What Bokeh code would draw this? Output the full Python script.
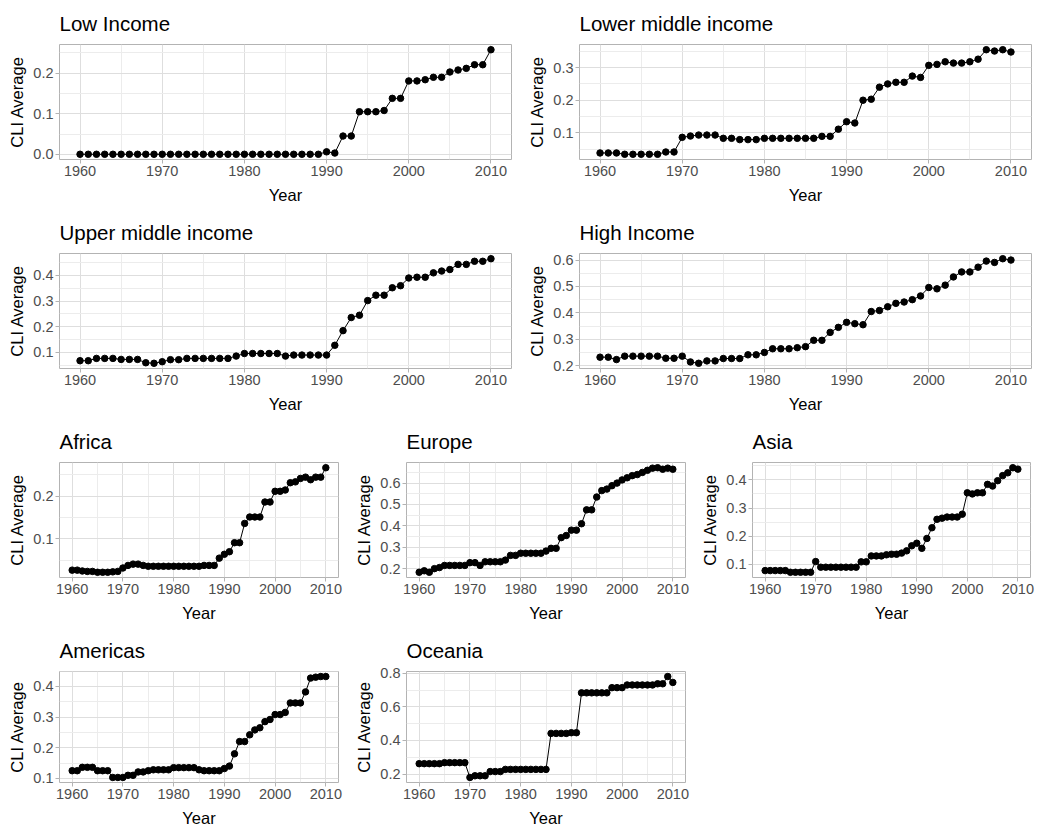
from bokeh.plotting import figure
from bokeh.layouts import column, row
from bokeh.models import FixedTicker, NumeralTickFormatter, Range1d
from bokeh.embed import file_html
from bokeh.resources import INLINE

years = list(range(1960, 2011))
x_ticks = [1960, 1970, 1980, 1990, 2000, 2010]
x_minor = [1965, 1975, 1985, 1995, 2005]

low_income = [0.0, 0.0, 0.0, 0.0, 0.0, 0.0, 0.0, 0.0, 0.0, 0.0,
              0.0, 0.0, 0.0, 0.0, 0.0, 0.0, 0.0, 0.0, 0.0, 0.0,
              0.0, 0.0, 0.0, 0.0, 0.0, 0.0, 0.0, 0.0, 0.0, 0.0,
              0.006, 0.003, 0.045, 0.045, 0.105, 0.105, 0.105, 0.108, 0.138, 0.138,
              0.181, 0.181, 0.184, 0.190, 0.190, 0.203, 0.208, 0.212, 0.221, 0.221, 0.258]
lower_middle = [0.038, 0.038, 0.038, 0.034, 0.034, 0.034, 0.034, 0.034, 0.041, 0.041,
                0.086, 0.090, 0.093, 0.093, 0.093, 0.083, 0.083, 0.079, 0.079, 0.079,
                0.083, 0.083, 0.083, 0.083, 0.083, 0.083, 0.083, 0.089, 0.089, 0.111,
                0.134, 0.130, 0.200, 0.203, 0.240, 0.250, 0.255, 0.255, 0.274, 0.270,
                0.307, 0.310, 0.318, 0.314, 0.314, 0.318, 0.326, 0.355, 0.351, 0.355, 0.348]
upper_middle = [0.068, 0.068, 0.077, 0.077, 0.077, 0.073, 0.073, 0.073, 0.060, 0.058,
                0.064, 0.072, 0.072, 0.077, 0.077, 0.077, 0.077, 0.077, 0.077, 0.086,
                0.096, 0.096, 0.096, 0.096, 0.096, 0.086, 0.090, 0.090, 0.090, 0.090,
                0.090, 0.128, 0.185, 0.236, 0.245, 0.302, 0.323, 0.323, 0.352, 0.360,
                0.390, 0.393, 0.393, 0.410, 0.417, 0.423, 0.443, 0.443, 0.455, 0.455, 0.465]
high_income = [0.232, 0.232, 0.223, 0.236, 0.236, 0.236, 0.236, 0.236, 0.228, 0.228,
               0.236, 0.214, 0.209, 0.218, 0.218, 0.227, 0.227, 0.227, 0.241, 0.241,
               0.250, 0.264, 0.264, 0.264, 0.268, 0.272, 0.296, 0.296, 0.326, 0.345,
               0.364, 0.359, 0.355, 0.405, 0.409, 0.423, 0.436, 0.441, 0.450, 0.464,
               0.496, 0.491, 0.505, 0.536, 0.555, 0.555, 0.573, 0.596, 0.591, 0.605, 0.600]
africa = [0.027, 0.027, 0.025, 0.024, 0.024, 0.022, 0.022, 0.022, 0.023, 0.024,
          0.032, 0.038, 0.041, 0.041, 0.038, 0.036, 0.036, 0.036, 0.036, 0.036,
          0.036, 0.036, 0.036, 0.036, 0.036, 0.036, 0.038, 0.038, 0.038, 0.055,
          0.064, 0.070, 0.091, 0.091, 0.136, 0.151, 0.151, 0.151, 0.186, 0.186,
          0.211, 0.211, 0.214, 0.231, 0.233, 0.241, 0.244, 0.238, 0.244, 0.244, 0.266]
europe = [0.183, 0.190, 0.183, 0.200, 0.205, 0.215, 0.215, 0.215, 0.215, 0.215,
          0.228, 0.228, 0.215, 0.232, 0.232, 0.232, 0.232, 0.240, 0.262, 0.262,
          0.272, 0.272, 0.272, 0.272, 0.272, 0.282, 0.295, 0.295, 0.345, 0.355,
          0.380, 0.380, 0.410, 0.475, 0.475, 0.535, 0.565, 0.572, 0.588, 0.600,
          0.615, 0.625, 0.635, 0.640, 0.650, 0.660, 0.670, 0.672, 0.665, 0.670, 0.665]
asia = [0.078, 0.078, 0.078, 0.078, 0.078, 0.072, 0.072, 0.072, 0.072, 0.072,
        0.110, 0.090, 0.090, 0.090, 0.090, 0.090, 0.090, 0.090, 0.090, 0.109,
        0.109, 0.130, 0.130, 0.130, 0.134, 0.136, 0.136, 0.140, 0.148, 0.166,
        0.175, 0.157, 0.192, 0.230, 0.260, 0.264, 0.268, 0.268, 0.268, 0.278,
        0.354, 0.350, 0.354, 0.354, 0.384, 0.378, 0.397, 0.415, 0.425, 0.443, 0.438]
americas = [0.125, 0.125, 0.136, 0.136, 0.136, 0.125, 0.125, 0.125, 0.103, 0.103,
            0.103, 0.110, 0.110, 0.121, 0.121, 0.125, 0.128, 0.128, 0.128, 0.128,
            0.135, 0.135, 0.135, 0.135, 0.135, 0.128, 0.125, 0.125, 0.125, 0.125,
            0.132, 0.140, 0.180, 0.220, 0.220, 0.242, 0.258, 0.265, 0.285, 0.292,
            0.308, 0.308, 0.315, 0.346, 0.346, 0.346, 0.382, 0.427, 0.430, 0.432, 0.432]
oceania = [0.262, 0.262, 0.262, 0.262, 0.262, 0.268, 0.268, 0.268, 0.268, 0.268,
           0.180, 0.190, 0.190, 0.190, 0.215, 0.215, 0.215, 0.228, 0.228, 0.228,
           0.228, 0.228, 0.228, 0.228, 0.228, 0.228, 0.442, 0.442, 0.442, 0.442,
           0.446, 0.446, 0.683, 0.683, 0.683, 0.683, 0.683, 0.683, 0.714, 0.714,
           0.714, 0.730, 0.730, 0.730, 0.730, 0.730, 0.730, 0.737, 0.737, 0.780, 0.745]

titles = ["Low Income", "Lower middle income", "Upper middle income", "High Income",
          "Africa", "Europe", "Asia", "Americas", "Oceania"]
series = [low_income, lower_middle, upper_middle, high_income,
          africa, europe, asia, americas, oceania]
y_ticks = [[0.0, 0.1, 0.2], [0.1, 0.2, 0.3], [0.1, 0.2, 0.3, 0.4], [0.2, 0.3, 0.4, 0.5, 0.6],
           [0.1, 0.2], [0.2, 0.3, 0.4, 0.5, 0.6], [0.1, 0.2, 0.3, 0.4], [0.1, 0.2, 0.3, 0.4],
           [0.2, 0.4, 0.6, 0.8]]

FONT = "Liberation Sans"


def make_panel(title, ys, yt, width, height, left, right, top, bottom):
    p = figure(width=width, height=height, output_backend="svg",
               toolbar_location=None, min_border_left=left, min_border_right=right,
               min_border_top=top, min_border_bottom=bottom)
    lo, hi = min(ys), max(ys)
    pad = 0.05 * (hi - lo)
    p.y_range = Range1d(lo - pad, hi + pad)
    p.x_range = Range1d(1957.5, 2012.5)
    p.line(years, ys, line_color="black", line_width=1)
    p.scatter(years, ys, size=6.5, fill_color="black", line_color="black")

    step = yt[1] - yt[0]
    y_minor = [round(t - step / 2, 3) for t in yt] + [round(yt[-1] + step / 2, 3)]
    p.xaxis.ticker = FixedTicker(ticks=x_ticks, minor_ticks=x_minor)
    p.yaxis.ticker = FixedTicker(ticks=yt, minor_ticks=y_minor)
    p.yaxis.formatter = NumeralTickFormatter(format="0.0")

    p.title.text = title
    p.title.text_font = FONT
    p.title.text_font_size = "20.5px"
    p.title.text_font_style = "normal"
    p.title.text_color = "black"
    p.title.offset = 0
    p.title.standoff = 19

    p.xaxis.axis_label = "Year"
    p.yaxis.axis_label = "CLI Average"
    for ax in (p.xaxis, p.yaxis):
        ax.axis_label_text_font = FONT
        ax.axis_label_text_font_size = "16.5px"
        ax.axis_label_text_font_style = "normal"
        ax.axis_label_text_color = "black"
        ax.major_label_text_font = FONT
        ax.major_label_text_font_size = "14.5px"
        ax.major_label_text_color = "#4d4d4d"
        ax.major_label_standoff = 2
        ax.axis_line_color = None
        ax.major_tick_line_color = "#b3b3b3"
        ax.major_tick_out = 4
        ax.major_tick_in = 0
        ax.minor_tick_out = 0
        ax.minor_tick_in = 0
    p.xaxis.axis_label_standoff = 7
    p.yaxis.axis_label_standoff = 4

    for g in (p.xgrid, p.ygrid):
        g.grid_line_color = "#dedede"
        g.grid_line_width = 1
        g.minor_grid_line_color = "#ececec"
        g.minor_grid_line_width = 1

    p.outline_line_color = "#b3b3b3"
    p.outline_line_width = 1
    p.background_fill_color = "white"
    p.border_fill_color = "white"
    return p


H, H_LAST, TOP, BOT, BOT_LAST = 209, 202, 44, 50, 43

p1 = make_panel(titles[0], series[0], y_ticks[0], 520, H, 59, 9, TOP, BOT)
p2 = make_panel(titles[1], series[1], y_ticks[1], 515, H, 59, 4, TOP, BOT)
p3 = make_panel(titles[2], series[2], y_ticks[2], 520, H, 59, 9, TOP, BOT)
p4 = make_panel(titles[3], series[3], y_ticks[3], 515, H, 59, 4, TOP, BOT)
p5 = make_panel(titles[4], series[4], y_ticks[4], 349, H, 59, 11, TOP, BOT)
p6 = make_panel(titles[5], series[5], y_ticks[5], 346, H, 57, 10, TOP, BOT)
p7 = make_panel(titles[6], series[6], y_ticks[6], 340, H, 57, 5, TOP, BOT)
p8 = make_panel(titles[7], series[7], y_ticks[7], 349, H_LAST, 59, 11, TOP, BOT_LAST)
p9 = make_panel(titles[8], series[8], y_ticks[8], 346, H_LAST, 57, 10, TOP, BOT_LAST)

layout = column(row(p1, p2, spacing=0), row(p3, p4, spacing=0),
                row(p5, p6, p7, spacing=0), row(p8, p9, spacing=0), spacing=0)

open("out.html", "w").write(file_html(layout, INLINE))
